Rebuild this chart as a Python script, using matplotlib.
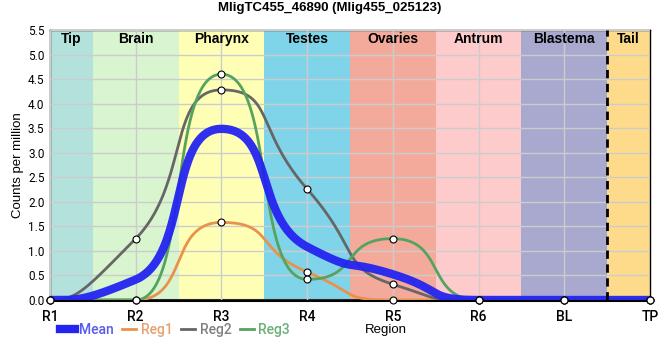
import numpy as np
import matplotlib
matplotlib.use("Agg")
import matplotlib.pyplot as plt

plt.rcParams['font.family'] = ['Liberation Sans', 'DejaVu Sans']

regions = ['R1', 'R2', 'R3', 'R4', 'R5', 'R6', 'BL', 'TP']
reg1 = [0, 0, 1.58, 0.57, 0, 0, 0, 0]
reg2 = [0, 1.25, 4.28, 2.26, 0.32, 0, 0, 0]
reg3 = [0, 0, 4.60, 0.42, 1.25, 0, 0, 0]
mean = list(np.mean([reg1, reg2, reg3], axis=0))

band_names = ['Tip', 'Brain', 'Pharynx', 'Testes', 'Ovaries', 'Antrum', 'Blastema', 'Tail']
band_edges = [0, 0.5, 1.5, 2.5, 3.5, 4.5, 5.5, 6.5, 7]
band_colors = ['#b3e2dd', '#d9f5d0', '#feffb5', '#7fd4ea', '#f4aa9b',
               '#fdcbcb', '#a9a8cf', '#fddb8a']


# monotone tangents, bezier segments with long control arms
# (end points get half-length arms)
def smooth(x, y, arm=0.62, n=80):
    x = np.asarray(x, float); y = np.asarray(y, float)
    h = np.diff(x); d = np.diff(y) / h
    npts = len(x)
    m = np.zeros(npts)
    for k in range(1, npts - 1):
        if d[k-1] * d[k] > 0:
            w1 = 2*h[k] + h[k-1]; w2 = h[k] + 2*h[k-1]
            m[k] = (w1 + w2) / (w1/d[k-1] + w2/d[k])
    t = np.linspace(0, 1, n)[:, None]
    xs, ys = [], []
    for k in range(npts - 1):
        a0 = arm * h[k] * (0.5 if k == 0 else 1)
        a1 = arm * h[k] * (0.5 if k == npts - 2 else 1)
        px = [x[k], x[k] + a0, x[k+1] - a1, x[k+1]]
        py = [y[k], y[k] + m[k]*a0, y[k+1] - m[k+1]*a1, y[k+1]]
        b = [(1-t)**3, 3*(1-t)**2*t, 3*(1-t)*t**2, t**3]
        xs.append(sum(bi*p for bi, p in zip(b, px)).ravel())
        ys.append(sum(bi*p for bi, p in zip(b, py)).ravel())
    return np.concatenate(xs), np.concatenate(ys)


fig = plt.figure(figsize=(6.6, 3.6), dpi=100)
ax = fig.add_axes([0.0758, 0.1667, 0.9091, 0.75])

for i in range(len(band_names)):
    ax.axvspan(band_edges[i], band_edges[i+1], color=band_colors[i], lw=0, zorder=0)
    ax.text((band_edges[i] + band_edges[i+1]) / 2, 5.45, band_names[i],
            ha='center', va='top', fontsize=10, fontweight='bold', zorder=5)

ax.axvline(6.5, color='black', ls=(0, (3, 2)), lw=2, zorder=4)

xpos = np.arange(len(regions))

ax.plot(*smooth(xpos, reg1), color='#e8924c', lw=2, zorder=3)
ax.plot(*smooth(xpos, reg2), color='#666666', lw=2, zorder=3)
ax.plot(*smooth(xpos, reg3), color='#56a35f', lw=2, zorder=3)
ax.plot(*smooth(xpos, mean), color='#2424f0', lw=6, alpha=0.95, zorder=3,
        solid_capstyle='butt')

for s in (reg1, reg2, reg3):
    ax.plot(xpos, s, ls='none', marker='o', ms=5, mfc='white', mec='black',
            mew=0.8, zorder=6, clip_on=False)

ax.set_xlim(0, 7)
ax.set_ylim(0, 5.5)
ax.set_xticks(xpos)
ax.set_xticklabels(regions, fontsize=10, family=['Roboto', 'DejaVu Sans'],
                   fontweight='medium')
yt = np.arange(0, 5.51, 0.5)
ax.set_yticks(yt)
ax.set_yticklabels(['%.1f' % v for v in yt], fontsize=8.5,
                   family=['Roboto', 'DejaVu Sans'])
ax.grid(True, color='#cccccc', lw=1, zorder=1)
ax.tick_params(axis='x', length=0, pad=7)
ax.tick_params(axis='y', length=0, pad=4)
ax.set_axisbelow(False)
for sp in ('left', 'top', 'right'):
    ax.spines[sp].set_linewidth(1)
ax.spines['bottom'].set_linewidth(2.2)
for gl in ax.get_xgridlines() + ax.get_ygridlines():
    gl.set_zorder(1)
ax.set_ylabel('Counts per million', fontsize=9.5, labelpad=3)

fig.suptitle('MligTC455_46890 (Mlig455_025123)', fontsize=9.5, fontweight='bold', y=0.995)

handles = [plt.Line2D([], [], color='#2424f0', lw=6),
           plt.Line2D([], [], color='#e8924c', lw=2),
           plt.Line2D([], [], color='#666666', lw=2),
           plt.Line2D([], [], color='#56a35f', lw=2)]
leg = fig.legend(handles, ['Mean', 'Reg1', 'Reg2', 'Reg3'], ncol=4, frameon=False,
                 loc='center left', bbox_to_anchor=(0.072, 0.083),
                 prop={'family': ['Roboto', 'DejaVu Sans'], 'size': 10, 'weight': 'medium'},
                 handlelength=1.05, handletextpad=0.3, columnspacing=0.6)
for txt, c in zip(leg.get_texts(), ['#5a5af0', '#e8a070', '#808080', '#6aae78']):
    txt.set_color(c)
fig.text(0.553, 0.083, 'Region', fontsize=9.5, va='center')

fig.savefig('out.png', dpi=100)
